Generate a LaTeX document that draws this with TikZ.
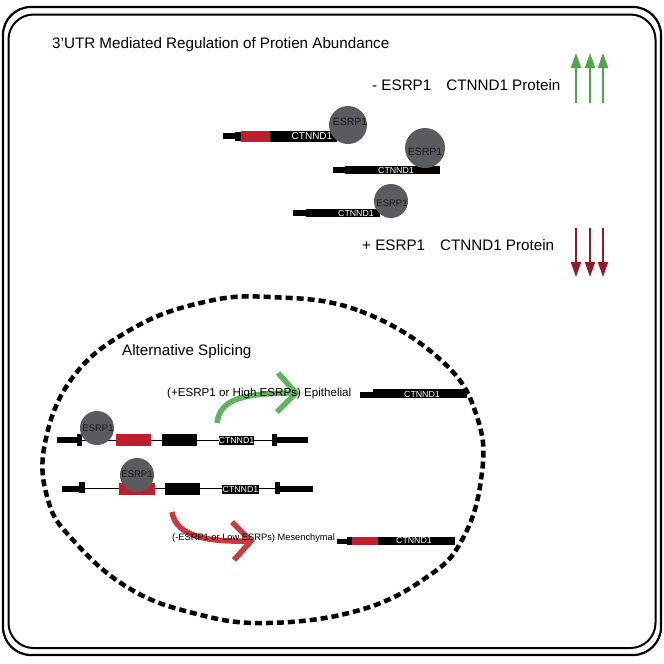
\documentclass[tikz,border=0pt]{standalone}
\usepackage{fontspec}
\setmainfont{Liberation Sans}
\usetikzlibrary{arrows.meta}
\definecolor{blobgray}{RGB}{90,91,95}
\definecolor{exred}{RGB}{190,30,45}
\definecolor{upgreen}{RGB}{80,165,70}
\definecolor{downred}{RGB}{150,25,40}
\definecolor{cgreen}{RGB}{95,180,95}
\definecolor{cred}{RGB}{200,60,65}
\tikzset{
  frame/.style={line width=2.2pt, rounded corners=28pt},
  bar/.style={fill=black},
  redbar/.style={fill=exred},
  blob/.style={circle, fill=blobgray, inner sep=0pt, minimum size=#1},
  blobtxt/.style={text=black!90, font=\fontsize{9.5}{10}\selectfont, inner sep=0pt},
  gtxt/.style={text=white, font=\fontsize{8.8}{9}\selectfont, inner sep=0pt},
  lbl/.style={font=\fontsize{15.2}{17}\selectfont, inner sep=0pt, anchor=west},
  slbl/.style={font=\fontsize{11.6}{13}\selectfont, inner sep=0pt, anchor=west},
  uparr/.style={draw=upgreen, line width=2pt, -{Triangle[length=15pt,width=10pt]}},
  dnarr/.style={draw=downred, line width=2pt, -{Triangle[length=15pt,width=10pt]}},
  bendline/.style={line width=5.5pt},
  intron/.style={line width=0.8pt}
}
\begin{document}
\begin{tikzpicture}[x=1pt,y=-1pt]
\useasboundingbox (0,0) rectangle (664,664);
% frames
\draw[frame] (3,7) rectangle (661,655);
\draw[frame, line width=2pt, rounded corners=25pt] (8.5,14.5) rectangle (655.5,648);

% titles
\node[lbl] (title) at (52,45) {3’UTR Mediated Regulation of Protien Abundance};
\node[lbl] (minus) at (372,85) {- ESRP1\hspace{15pt}CTNND1 Protein};
\node[lbl] (plus) at (362,245) {+ ESRP1\hspace{15pt}CTNND1 Protein};

% up / down arrows
\foreach \x/\n in {576/a,590/b,603/c}{
  \coordinate (ub\n) at (\x,103);
  \coordinate (ut\n) at (\x,53);
  \draw[uparr] (ub\n) -- (ut\n);
  \coordinate (db\n) at (\x,228);
  \coordinate (dt\n) at (\x,277);
  \draw[dnarr] (db\n) -- (dt\n);
}

% transcript 1
\fill[bar] (223,133) rectangle (241,139);
\fill[bar] (235,131.5) rectangle (242,141);
\fill[redbar] (241,131) rectangle (270,142);
\fill[bar] (270,131) rectangle (337,142);
\node[gtxt, font=\fontsize{10}{10}\selectfont] (t1) at (312,136.5) {CTNND1};
\node[blob=38pt] (b1) at (348,125) {};
\node[blobtxt, font=\fontsize{10.5}{11}\selectfont] (b1t) at (350,122) {ESRP1};

% transcript 2
\fill[bar] (333,167) rectangle (346,173);
\fill[bar] (345,165.5) rectangle (440,173.5);
\node[gtxt] (t2) at (396,170) {CTNND1};
\node[blob=40pt] (b2) at (425,148) {};
\node[blobtxt, font=\fontsize{10.5}{11}\selectfont] (b2t) at (425,152) {ESRP1};

% transcript 3
\fill[bar] (293,210) rectangle (307,216);
\fill[bar] (306,208.5) rectangle (380,216.5);
\node[gtxt] (t3) at (356,213.5) {CTNND1};
\node[blob=34pt] (b3) at (391,201) {};
\node[blobtxt] (b3t) at (392,203) {ESRP1};

% dashed ellipse
\draw[line width=4.5pt, dash pattern=on 7pt off 4pt]
  plot[smooth cycle, tension=0.7] coordinates {
  (270,297) (360,311) (443,362) (478,420) (481,480) (462,540) (427,577)
  (360,610) (267,623) (193,613) (127,587) (73,540) (48,500) (45,443) (73,377) (130,330) (200,303)};

\node[lbl] (alt) at (122,352) {Alternative Splicing};

% curved arrows
\coordinate (gs) at (217,423);
\coordinate (ge) at (295,393);
\draw[cgreen, bendline] (gs) .. controls (220,400) and (240,393) .. (ge);
\draw[cgreen, bendline, miter limit=10] (278,373) -- (296,393) -- (277,412);
\coordinate (rs) at (172,512);
\coordinate (re) at (250,541);
\draw[cred, bendline] (rs) .. controls (176,538) and (212,542) .. (re);
\draw[cred, bendline, miter limit=10] (232,522) -- (251,541) -- (234,560);

\node[slbl] (epi) at (167,393) {(+ESRP1 or High ESRPs) Epithelial};
\node[slbl, font=\fontsize{9.3}{11}\selectfont] (mes) at (172,538) {(-ESRP1 or Low ESRPs) Mesenchymal};

% epithelial product
\fill[bar] (360,392) rectangle (374,397.5);
\fill[bar] (373,389) rectangle (467,398);
\node[gtxt] (te) at (422,394) {CTNND1};

% mesenchymal product
\fill[bar] (337,539) rectangle (352,544);
\fill[bar] (347,537) rectangle (352,545);
\fill[redbar] (352,536.5) rectangle (378,544.5);
\fill[bar] (378,536.5) rectangle (455,544.5);
\node[gtxt] (tm) at (414,540.5) {CTNND1};

% gene 1
\draw[intron] (80,440) -- (275,440);
\fill[bar] (57,437) rectangle (80,443);
\fill[bar] (77,434) rectangle (82,446);
\fill[redbar] (116,434) rectangle (151,446);
\fill[bar] (162,434) rectangle (197,446);
\fill[bar] (219,435.5) rectangle (254,444.5);
\node[gtxt] (g1t) at (236.5,440) {CTNND1};
\fill[bar] (272,434) rectangle (277,446);
\fill[bar] (277,437) rectangle (308,443);
\node[blob=34pt] (g1b) at (97,428) {};
\node[blobtxt] (g1bt) at (98,428) {ESRP1};

% gene 2
\draw[intron] (82,488.5) -- (278,488.5);
\fill[bar] (62,485.5) rectangle (82,491.5);
\fill[bar] (79,482) rectangle (85,493);
\fill[redbar] (119,483) rectangle (155,495);
\fill[bar] (165,483) rectangle (200,495);
\fill[bar] (222,485) rectangle (259,493.5);
\node[gtxt] (g2t) at (240.5,489.2) {CTNND1};
\fill[bar] (275,482) rectangle (280,494);
\fill[bar] (280,485.5) rectangle (313,491.5);
\node[blob=34pt] (g2b) at (137,475) {};
\node[blobtxt] (g2bt) at (137,474) {ESRP1};
\end{tikzpicture}
\end{document}
